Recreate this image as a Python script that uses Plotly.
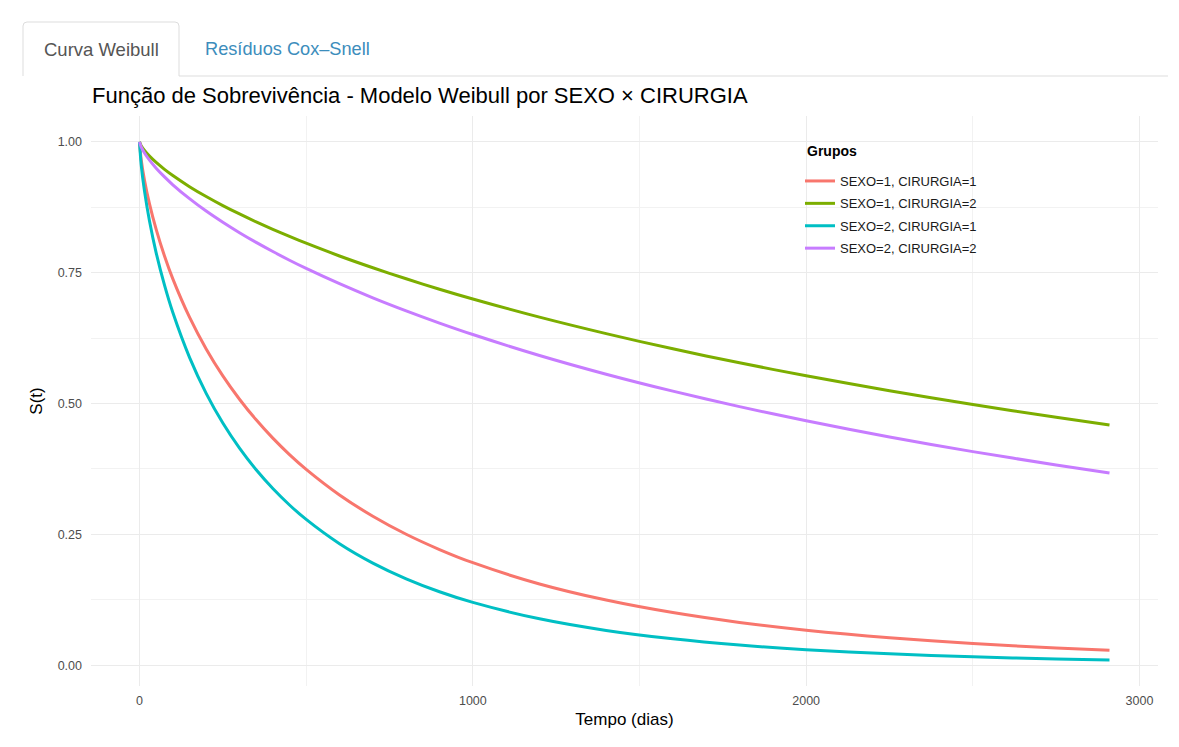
import plotly.graph_objects as go

# Survival estimates S(t) for each SEXO x CIRURGIA group (Weibull model)
tempo = [0, 5, 15, 30, 50, 75, 100, 150, 200, 250, 300, 350, 400, 450, 500,
         600, 700, 800, 900, 1000, 1200, 1400, 1600, 1800, 2000, 2250, 2500,
         2750, 2910]

s_sexo1_cir1 = [1.0, 0.9665, 0.9269, 0.8816, 0.8328, 0.7819, 0.7382, 0.6650,
                0.6044, 0.5529, 0.5083, 0.4689, 0.4339, 0.4025, 0.3743, 0.3254,
                0.2847, 0.2503, 0.2211, 0.1959, 0.1553, 0.1245, 0.1006, 0.0818,
                0.0669, 0.0525, 0.0415, 0.0330, 0.0286]
s_sexo1_cir2 = [1.0, 0.9926, 0.9835, 0.9728, 0.9607, 0.9476, 0.9357, 0.9145,
                0.8956, 0.8783, 0.8623, 0.8471, 0.8329, 0.8193, 0.8064, 0.7820,
                0.7595, 0.7384, 0.7185, 0.6998, 0.6651, 0.6336, 0.6046, 0.5779,
                0.5531, 0.5245, 0.4981, 0.4737, 0.4590]
s_sexo2_cir1 = [1.0, 0.9567, 0.9060, 0.8489, 0.7881, 0.7262, 0.6739, 0.5883,
                0.5195, 0.4627, 0.4147, 0.3734, 0.3376, 0.3062, 0.2786, 0.2322,
                0.1952, 0.1651, 0.1404, 0.1200, 0.0887, 0.0665, 0.0504, 0.0385,
                0.0297, 0.0217, 0.0160, 0.0118, 0.0098]
s_sexo2_cir2 = [1.0, 0.9905, 0.9788, 0.9651, 0.9498, 0.9331, 0.9181, 0.8915,
                0.8678, 0.8464, 0.8265, 0.8079, 0.7905, 0.7739, 0.7582, 0.7290,
                0.7020, 0.6771, 0.6538, 0.6319, 0.5919, 0.5561, 0.5237, 0.4941,
                0.4671, 0.4362, 0.4082, 0.3827, 0.3675]

grupos = ["SEXO=1, CIRURGIA=1", "SEXO=1, CIRURGIA=2",
          "SEXO=2, CIRURGIA=1", "SEXO=2, CIRURGIA=2"]
series = [s_sexo1_cir1, s_sexo1_cir2, s_sexo2_cir1, s_sexo2_cir2]
cores = ["#F8766D", "#7CAE00", "#00BFC4", "#C77CFF"]

y_ticks = [0, 0.25, 0.5, 0.75, 1.0]
x_ticks = [0, 1000, 2000, 3000]

W, H = 1179, 747
L, R, T, B = 91, 1158, 116, 686   # plot panel in pixels


def px(x):
    return (x - L) / (R - L)


def py(y):
    return (B - y) / (B - T)


FONT = "Liberation Sans, Arial, Helvetica, sans-serif"

fig = go.Figure()
for nome, vals, cor in zip(grupos, series, cores):
    fig.add_trace(go.Scatter(
        x=tempo, y=vals, mode="lines", name=nome, legendgroup=nome,
        line=dict(color=cor, width=3, shape="spline", smoothing=0.8),
    ))

# Tab strip above the chart
r = 4
tab_path = (
    f"M {px(23)} {py(76)} L {px(23)} {py(22 + r)} "
    f"Q {px(23)} {py(22)} {px(23 + r)} {py(22)} "
    f"L {px(179 - r)} {py(22)} Q {px(179)} {py(22)} {px(179)} {py(22 + r)} "
    f"L {px(179)} {py(76)}"
)
shapes = [
    dict(type="path", xref="paper", yref="paper", path=tab_path,
         line=dict(color="#dddddd", width=1), fillcolor="rgba(0,0,0,0)"),
    dict(type="line", xref="paper", yref="paper",
         x0=px(179), x1=px(1168), y0=py(76), y1=py(76),
         line=dict(color="#dddddd", width=1)),
]

annotations = [
    dict(text="Curva Weibull", xref="paper", yref="paper",
         x=px(101), y=py(49), xanchor="center", yanchor="middle",
         showarrow=False, font=dict(family=FONT, size=18.5, color="#555555")),
    dict(text="Resíduos Cox–Snell", xref="paper", yref="paper",
         x=px(203), y=py(49), xanchor="left", yanchor="middle",
         showarrow=False, font=dict(family=FONT, size=18.2, color="#3c8dbc")),
    dict(text="Função de Sobrevivência - Modelo Weibull por SEXO × CIRURGIA",
         xref="paper", yref="paper", x=px(90), y=py(96),
         xanchor="left", yanchor="middle", showarrow=False,
         font=dict(family=FONT, size=22, color="#000000")),
    dict(text="<b>Grupos</b>", xref="paper", yref="paper",
         x=px(805), y=py(151), xanchor="left", yanchor="middle",
         showarrow=False, font=dict(family=FONT, size=14, color="#000000")),
]

fig.update_layout(
    width=W, height=H, autosize=False,
    margin=dict(l=L, r=W - R, t=T, b=H - B, pad=0),
    paper_bgcolor="white", plot_bgcolor="white",
    font=dict(family=FONT, color="#000000"),
    shapes=shapes, annotations=annotations,
    showlegend=True,
    legend=dict(
        x=px(800), y=py(166), xanchor="left", yanchor="top",
        bgcolor="rgba(0,0,0,0)", font=dict(family=FONT, size=13, color="#1a1a1a"),
        itemwidth=30, tracegroupgap=2.5,
    ),
    xaxis=dict(
        range=[-145.5, 3055.5], tickvals=x_ticks, ticktext=[str(v) for v in x_ticks],
        showgrid=True, gridcolor="#ebebeb", gridwidth=1.1, zeroline=False,
        showline=False, ticks="", ticklabelstandoff=5,
        tickfont=dict(family=FONT, size=12.5, color="#4d4d4d"),
        minor=dict(tickvals=[500, 1500, 2500], showgrid=True,
                   gridcolor="#f2f2f2", gridwidth=1),
        title=dict(text="Tempo (dias)", standoff=6,
                   font=dict(family=FONT, size=17, color="#000000")),
    ),
    yaxis=dict(
        range=[-0.0397, 1.0495], tickvals=y_ticks,
        ticktext=[f"{v:.2f}" for v in y_ticks],
        showgrid=True, gridcolor="#ebebeb", gridwidth=1.1, zeroline=False,
        showline=False, ticks="", ticklabelstandoff=8,
        tickfont=dict(family=FONT, size=12.5, color="#4d4d4d"),
        minor=dict(tickvals=[0.125, 0.375, 0.625, 0.875], showgrid=True,
                   gridcolor="#f2f2f2", gridwidth=1),
        title=dict(text="S(t)", standoff=10,
                   font=dict(family=FONT, size=17, color="#000000")),
    ),
)

fig.write_html("out.html")
